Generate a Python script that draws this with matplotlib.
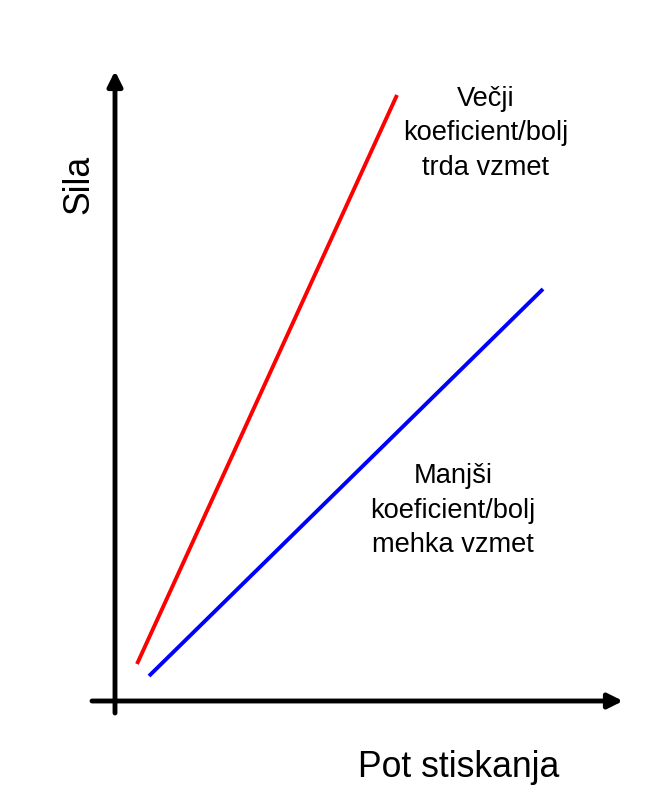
import matplotlib
matplotlib.use("Agg")
import matplotlib.pyplot as plt

# Data (arbitrary units: compression distance vs force)
stiff_x = [0.44, 5.64]
stiff_y = [0.74, 12.12]
soft_x = [0.68, 8.56]
soft_y = [0.50, 8.24]

label_stiff = ["Večji", "koeficient/bolj", "trda vzmet"]
label_soft = ["Manjši", "koeficient/bolj", "mehka vzmet"]
xlabel = "Pot stiskanja"
ylabel = "Sila"

plt.rcParams['font.family'] = ['Liberation Sans', 'DejaVu Sans']

W, H, DPI = 651, 802, 100
fig = plt.figure(figsize=(W / DPI, H / DPI), dpi=DPI)
ax = fig.add_axes([0, 0, 1, 1])
S = 50.0
ox, oy = 115, 701
ax.set_xlim(-ox / S, (W - ox) / S)
ax.set_ylim(-(H - oy) / S, oy / S)
ax.axis('off')

# axes with arrows
ax.annotate('', xy=(0, 12.6), xytext=(0, -0.24),
            arrowprops=dict(arrowstyle='-|>', lw=3.5, color='black',
                            mutation_scale=22, shrinkA=0, shrinkB=0))
ax.annotate('', xy=(10.16, 0), xytext=(-0.46, 0),
            arrowprops=dict(arrowstyle='-|>', lw=3.5, color='black',
                            mutation_scale=22, shrinkA=0, shrinkB=0))

ax.plot(stiff_x, stiff_y, color='#ff0000', lw=2.8, solid_capstyle='butt')
ax.plot(soft_x, soft_y, color='#0000ff', lw=2.8, solid_capstyle='butt')

step = 34.5
for i, line in enumerate(label_stiff):
    ax.text((486 - ox) / S, (oy - (106 + i * step)) / S, line, ha='center',
            va='baseline', fontsize=19.6)
for i, line in enumerate(label_soft):
    ax.text((453 - ox) / S, (oy - (483 + i * step)) / S, line, ha='center',
            va='baseline', fontsize=19.6)

ax.text((459 - ox) / S, (oy - 777) / S, xlabel, ha='center', va='baseline',
        fontsize=25.6)
ax.text((88 - ox) / S, (oy - 184) / S, ylabel, ha='center', va='baseline',
        rotation=90, fontsize=25.6, rotation_mode='anchor')

fig.savefig('out.png', dpi=DPI, facecolor='white')
